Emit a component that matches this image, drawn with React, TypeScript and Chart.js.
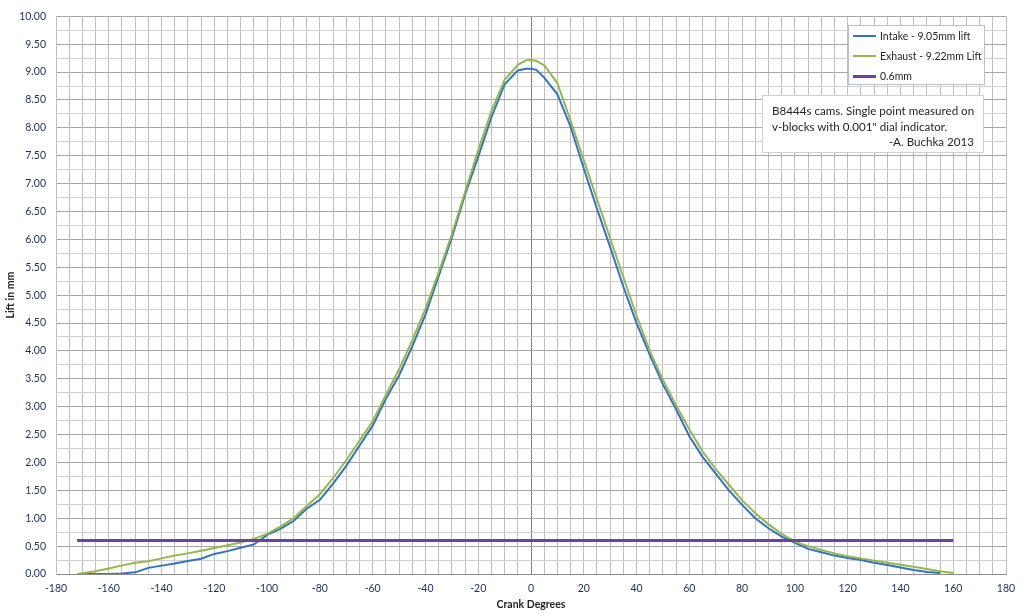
import React, { useEffect, useRef } from "react";
import { Chart, registerables } from "chart.js";

Chart.register(...registerables);

// Crank angle (degrees) shared by both cam series
const degrees = [
  -172, -165, -160, -155, -150, -145, -140, -135, -130, -125, -120, -115, -110, -105,
  -100, -95, -90, -85, -80, -75, -70, -65, -60, -55, -50, -45, -40, -35, -30, -25,
  -20, -15, -10, -5, -2, 0, 2, 5, 10, 15, 20, 25, 30, 35, 40, 45, 50, 55, 60, 65,
  70, 75, 80, 85, 90, 95, 100, 105, 110, 115, 120, 125, 130, 135, 140, 145, 150, 155, 160,
];

// Intake - 9.05mm lift
const intakeLift = [
  0.0, 0.0, 0.0, 0.01, 0.03, 0.11, 0.15, 0.19, 0.235, 0.275, 0.36, 0.41, 0.47, 0.53,
  0.7, 0.81, 0.95, 1.17, 1.33, 1.62, 1.94, 2.3, 2.66, 3.14, 3.56, 4.08, 4.65, 5.34, 6.03, 6.8,
  7.48, 8.19, 8.78, 9.03, 9.06, 9.06, 9.04, 8.9, 8.6, 8.02, 7.27, 6.55, 5.86, 5.15, 4.5, 3.93, 3.4, 2.95, 2.47, 2.1,
  1.8, 1.5, 1.24, 1.0, 0.82, 0.67, 0.56, 0.45, 0.39, 0.33, 0.285, 0.25, 0.2, 0.16, 0.115, 0.07, 0.035, 0.02, null,
];

// Exhaust - 9.22mm Lift
const exhaustLift = [
  0.0, 0.05, 0.1, 0.155, 0.2, 0.23, 0.28, 0.33, 0.37, 0.415, 0.465, 0.515, 0.565, 0.63,
  0.72, 0.85, 1.0, 1.22, 1.43, 1.72, 2.04, 2.39, 2.74, 3.21, 3.67, 4.19, 4.76, 5.41, 6.09, 6.85,
  7.6, 8.3, 8.86, 9.13, 9.21, 9.22, 9.2, 9.12, 8.8, 8.13, 7.42, 6.72, 6.02, 5.32, 4.63, 4.0, 3.48, 3.02, 2.59, 2.2,
  1.88, 1.6, 1.32, 1.09, 0.89, 0.72, 0.58, 0.5, 0.43, 0.37, 0.32, 0.28, 0.24, 0.2, 0.165, 0.13, 0.09, 0.05, 0.02,
];

// 0.6mm reference line
const thresholdDeg = [-172, 160];
const thresholdLift = [0.6, 0.6];

const seriesNames = ["Intake - 9.05mm lift", "Exhaust - 9.22mm Lift", "0.6mm"];
const seriesColors = ["#3472c4", "#93b94b", "#7040a0"];

const noteLines = [
  "B8444s  cams. Single point measured on",
  "v-blocks with 0.001\" dial indicator.",
  "-A. Buchka 2013",
];

const FONT = "Lato, 'Open Sans', sans-serif";

function toPoints(xs: number[], ys: (number | null)[]) {
  const out: { x: number; y: number }[] = [];
  xs.forEach((x, i) => {
    const y = ys[i];
    if (y !== null && y !== undefined) out.push({ x, y });
  });
  return out;
}

export default function App() {
  const canvasRef = useRef<HTMLCanvasElement | null>(null);

  useEffect(() => {
    const canvas = canvasRef.current;
    if (!canvas) return;
    const chart = new Chart(canvas, {
      type: "line",
      data: {
        datasets: [
          {
            label: seriesNames[0],
            data: toPoints(degrees, intakeLift),
            borderColor: seriesColors[0],
            borderWidth: 2,
            pointRadius: 0,
            tension: 0,
            order: 3,
          },
          {
            label: seriesNames[1],
            data: toPoints(degrees, exhaustLift),
            borderColor: seriesColors[1],
            borderWidth: 2,
            pointRadius: 0,
            tension: 0,
            order: 2,
          },
          {
            label: seriesNames[2],
            data: toPoints(thresholdDeg, thresholdLift),
            borderColor: seriesColors[2],
            borderWidth: 3,
            pointRadius: 0,
            tension: 0,
            order: 1,
          },
        ],
      },
      options: {
        responsive: false,
        animation: false,
        layout: { padding: { top: 6, right: 18, left: 0, bottom: 0 } },
        plugins: {
          legend: { display: false },
          tooltip: { enabled: false },
        },
        scales: {
          x: {
            type: "linear",
            min: -180,
            max: 180,
            afterFit: (s: any) => {
              s.height = 41;
            },
            ticks: {
              stepSize: 5,
              autoSkip: false,
              maxRotation: 0,
              padding: 8,
              color: "#1f2f55",
              font: { family: FONT, size: 10.5 },
              callback: (v: any) => (Math.round(Number(v)) % 20 === 0 ? String(v) : ""),
            },
            grid: {
              drawTicks: false,
              color: (ctx: any) => (ctx.tick && ctx.tick.value === 0 ? "#7f7f7f" : "#bfbfbf"),
              lineWidth: 1,
            },
            border: { display: true, color: "#8c8c8c" },
            title: {
              display: true,
              text: "Crank Degrees",
              color: "#222",
              font: { family: FONT, size: 10.5, weight: "bold" },
              padding: { top: 2, bottom: 4 },
            },
          },
          y: {
            type: "linear",
            min: 0,
            max: 10,
            afterFit: (s: any) => {
              s.width = 56;
            },
            ticks: {
              stepSize: 0.25,
              autoSkip: false,
              padding: 10,
              color: "#1f2f55",
              font: { family: FONT, size: 10.5 },
              callback: (v: any) => {
                const n = Number(v);
                return Math.round(n * 100) % 50 === 0 ? n.toFixed(2) : "";
              },
            },
            grid: {
              drawTicks: false,
              color: (ctx: any) => {
                const v = ctx.tick ? ctx.tick.value : 0;
                if (v === 0) return "#7f7f7f";
                return Math.round(v * 100) % 50 === 0 ? "#a6a6a6" : "#d0d0d0";
              },
              lineWidth: 1,
            },
            border: { display: true, color: "#bfbfbf" },
            title: {
              display: true,
              text: "Lift in mm",
              color: "#222",
              font: { family: FONT, size: 10.5, weight: "bold" },
              padding: { top: 4, bottom: 2 },
            },
          },
        },
      },
    });
    return () => chart.destroy();
  }, []);

  const textStyle: React.CSSProperties = {
    fontFamily: FONT,
    color: "#262626",
    whiteSpace: "nowrap",
  };

  return (
    <div style={{ position: "absolute", left: 0, top: 0, width: 1024, height: 615, background: "#fff" }}>
      <canvas ref={canvasRef} width={1024} height={615} style={{ display: "block" }} />
      {/* Legend */}
      <div
        style={{
          position: "absolute",
          left: 848,
          top: 25,
          width: 137,
          height: 60,
          background: "#fff",
          border: "1px solid #b7c1d2",
          boxSizing: "border-box",
        }}
      >
        {seriesNames.map((name, i) => (
          <div
            key={name}
            style={{
              position: "absolute",
              left: 0,
              top: 0 + i * 20,
              height: 20,
              display: "flex",
              alignItems: "center",
            }}
          >
            <div
              style={{
                marginLeft: 4,
                width: 23,
                height: i === 2 ? 3 : 2,
                background: seriesColors[i],
              }}
            />
            <span style={{ ...textStyle, fontSize: 10.5, marginLeft: 4 }}>{name}</span>
          </div>
        ))}
      </div>
      {/* Annotation */}
      <div
        style={{
          position: "absolute",
          left: 762,
          top: 95,
          width: 222,
          height: 58,
          background: "#fff",
          border: "1px solid #d0d0d0",
          boxSizing: "border-box",
          padding: "7px 8px 0 9px",
          fontSize: 11.6,
          lineHeight: "15.5px",
          ...textStyle,
        }}
      >
        <div>{noteLines[0]}</div>
        <div>{noteLines[1]}</div>
        <div style={{ textAlign: "right", paddingRight: 1 }}>{noteLines[2]}</div>
      </div>
    </div>
  );
}
